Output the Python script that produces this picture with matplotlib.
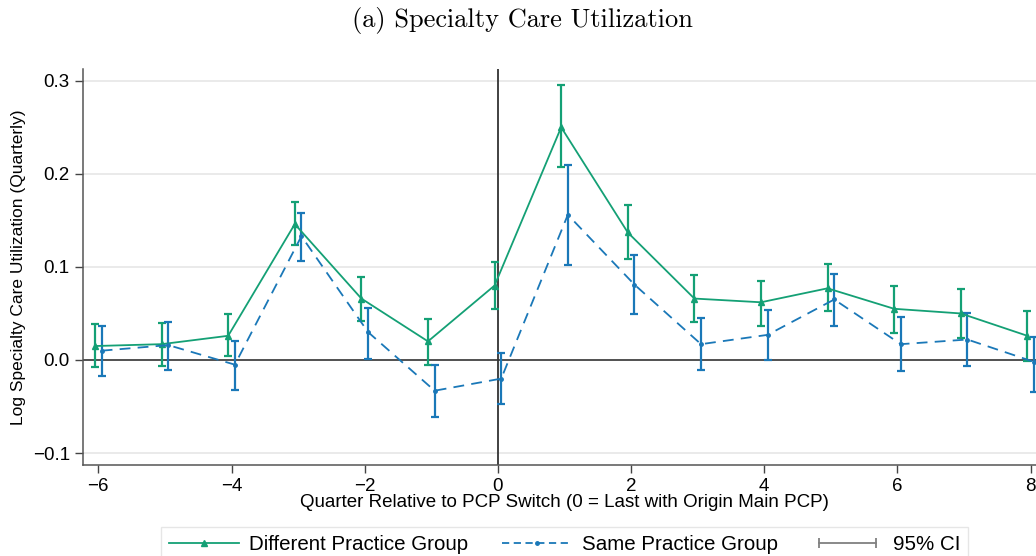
import numpy as np
import matplotlib
matplotlib.use("Agg")
import matplotlib.pyplot as plt
from matplotlib.lines import Line2D
from matplotlib.legend_handler import HandlerLine2D

plt.rcParams['font.family'] = ['Liberation Sans', 'DejaVu Sans']

# quarters relative to switch
quarters = np.arange(-6, 9)

# Different Practice Group
diff_est = [0.015, 0.017, 0.026, 0.146, 0.066, 0.020, 0.080,
            0.250, 0.137, 0.066, 0.062, 0.077, 0.055, 0.050, 0.026]
diff_hi = [0.039, 0.040, 0.049, 0.170, 0.089, 0.044, 0.105,
           0.295, 0.166, 0.091, 0.085, 0.103, 0.080, 0.076, 0.053]
diff_lo = [-0.008, -0.006, 0.004, 0.123, 0.042, -0.005, 0.055,
           0.207, 0.108, 0.041, 0.037, 0.053, 0.029, 0.024, -0.001]

# Same Practice Group
same_est = [0.010, 0.016, -0.005, 0.133, 0.030, -0.033, -0.020,
            0.156, 0.081, 0.017, 0.027, 0.065, 0.017, 0.022, -0.002]
same_hi = [0.037, 0.041, 0.020, 0.158, 0.056, -0.005, 0.007,
           0.209, 0.113, 0.045, 0.054, 0.092, 0.046, 0.051, 0.025]
same_lo = [-0.017, -0.011, -0.032, 0.106, 0.001, -0.061, -0.047,
           0.102, 0.049, -0.011, 0.000, 0.036, -0.012, -0.006, -0.034]

x_ticks = [-6, -4, -2, 0, 2, 4, 6, 8]
y_ticks = [-0.1, 0.0, 0.1, 0.2, 0.3]
y_ticklabels = ['\u22120.1', '0.0', '0.1', '0.2', '0.3']

green = '#14a075'
blue = '#1a78b8'

fig = plt.figure(figsize=(10.36, 5.56), dpi=100)
ax = fig.add_axes([83 / 1036, 91 / 556, 963 / 1036, 396 / 556])

def err(est, lo, hi):
    est = np.array(est)
    return [est - np.array(lo), np.array(hi) - est]

# grid + reference lines
for yv in [-0.1, 0.1, 0.2, 0.3]:
    ax.axhline(yv, color='#e6e6e6', lw=1.2, zorder=0)
ax.axhline(0, color='#333333', lw=1.2, zorder=1)
ax.axvline(0, color='#333333', lw=1.3, zorder=1)

xg = quarters - 0.05
xb = quarters + 0.05
ax.errorbar(xg, diff_est, yerr=err(diff_est, diff_lo, diff_hi), fmt='none',
            ecolor=green, elinewidth=1.6, capsize=3, capthick=1.6, zorder=3)
ax.plot(xg, diff_est, color=green, lw=1.3, marker='^', ms=4, zorder=4)

ax.errorbar(xb, same_est, yerr=err(same_est, same_lo, same_hi), fmt='none',
            ecolor=blue, elinewidth=1.6, capsize=3, capthick=1.6, zorder=3)
ax.plot(xb, same_est, color=blue, lw=1.3, ls=(0, (6, 4)), marker='o', ms=2.5, zorder=4)

ax.set_xlim(-6.23, 8.23)
ax.set_ylim(-0.1128, 0.3126)
ax.set_xticks(x_ticks)
ax.set_xticklabels(['\u22126', '\u22124', '\u22122', '0', '2', '4', '6', '8'])
ax.set_yticks(y_ticks)
ax.set_yticklabels(y_ticklabels)
ax.tick_params(axis='both', labelsize=13.5, length=6, width=1, color='#444444', direction='out')

for s in ['top', 'right']:
    ax.spines[s].set_visible(False)
for s in ['left', 'bottom']:
    ax.spines[s].set_color('#555555')
    ax.spines[s].set_linewidth(1.1)

ax.set_xlabel('Quarter Relative to PCP Switch (0 = Last with Origin Main PCP)', fontsize=13.5, labelpad=-1)
ax.set_ylabel('Log Specialty Care Utilization (Quarterly)', fontsize=12.5, labelpad=5)

fig.text(522 / 1036, 1 - 21 / 556, '(a) Specialty Care Utilization', fontfamily='cmr10',
         fontsize=19, ha='center', va='center')

h1 = Line2D([], [], color=green, lw=1.3, marker='^', ms=4)
h2 = Line2D([], [], color=blue, lw=1.3, ls=(0, (4, 2.5)), marker='o', ms=2.5)
h3 = Line2D([], [], color='#808080', lw=1.3, marker='|', ms=7, mew=1.3)
leg = fig.legend([h1, h2, h3], ['Different Practice Group', 'Same Practice Group', '95% CI'],
                 loc='upper center', bbox_to_anchor=(564.5 / 1036, 1 - 527 / 556),
                 borderaxespad=0,
                 ncol=3, fontsize=14.8, frameon=True, fancybox=False,
                 handlelength=3.4, handletextpad=0.5, columnspacing=1.65,
                 borderpad=0.4, numpoints=1,
                 handler_map={h3: HandlerLine2D(numpoints=2)})
leg.get_frame().set_edgecolor('#e0e0e0')
leg.get_frame().set_linewidth(1)

fig.savefig('out.png', dpi=100)
